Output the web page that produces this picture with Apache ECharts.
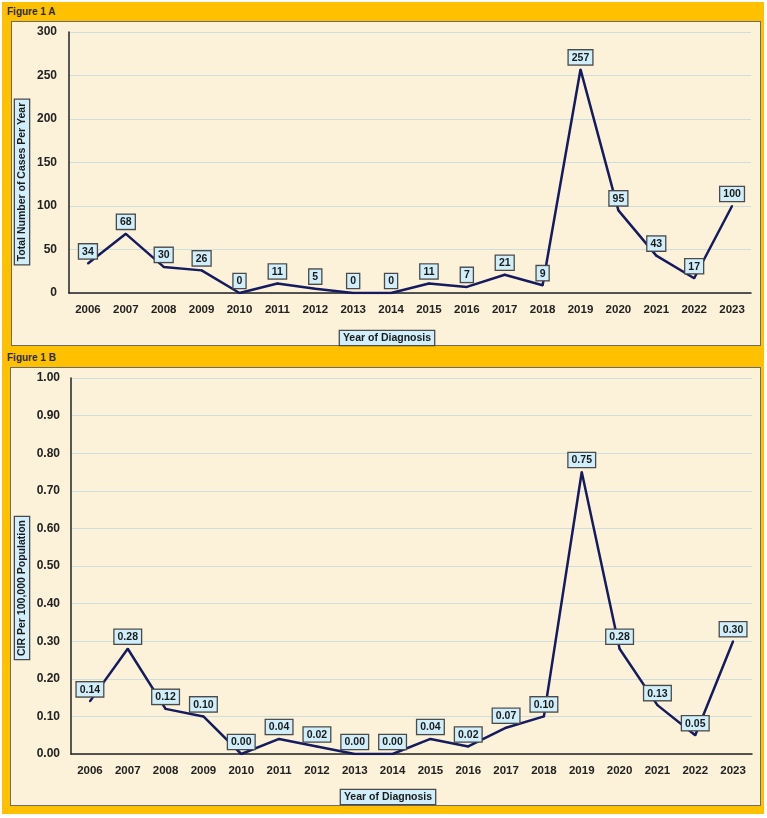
<!DOCTYPE html>
<html>
<head>
<meta charset="utf-8" />
<title>Figure 1</title>
<script src="https://cdn.jsdelivr.net/npm/echarts@6/dist/echarts.min.js"></script>
<style>
    body { margin: 0; padding: 0; background: #ffffff; }
    .page {
        position: relative;
        width: 767px;
        height: 818px;
        overflow: hidden;
    }
    .gold {
        position: absolute;
        left: 2px; top: 2px; width: 762px; height: 812px;
        background: #FFC000;
    }
    .panel {
        position: absolute;
        background: #FCF2D9;
        border: 1px solid #6b6b6b;
        box-sizing: border-box;
    }
    .fig {
        position: absolute;
        left: 7px;
        font: bold 10px "Liberation Sans", Arial, sans-serif;
        color: #2b2b2b;
    }
    #main { position: absolute; left: 0; top: 0; width: 767px; height: 818px; }
</style>
</head>
<body>
<div class="page">
    <div class="gold"></div>
    <div class="fig" style="top:6px;">Figure 1 A</div>
    <div class="panel" style="left:11px;top:21px;width:750px;height:325px;"></div>
    <div class="fig" style="top:352px;">Figure 1 B</div>
    <div class="panel" style="left:10px;top:367px;width:751px;height:439px;"></div>
    <div id="main"></div>
</div>
<script type="text/javascript">
    // 数据
    var years = ['2006', '2007', '2008', '2009', '2010', '2011', '2012', '2013', '2014',
        '2015', '2016', '2017', '2018', '2019', '2020', '2021', '2022', '2023'];
    var cases = [34, 68, 30, 26, 0, 11, 5, 0, 0, 11, 7, 21, 9, 257, 95, 43, 17, 100];
    var cir = [0.14, 0.28, 0.12, 0.10, 0.00, 0.04, 0.02, 0.00, 0.00, 0.04, 0.02, 0.07, 0.10,
        0.75, 0.28, 0.13, 0.05, 0.30];

    var lineColor = '#151B5E';
    var font = '"Liberation Sans", Arial, sans-serif';

    function boxLabel(fmt) {
        return {
            show: true,
            position: 'top',
            distance: 4,
            formatter: fmt,
            fontFamily: font,
            fontWeight: 'bold',
            fontSize: 10.5,
            color: '#1a1a1a',
            backgroundColor: '#D0EFFA',
            borderColor: '#4a4a4a',
            borderWidth: 1.3,
            padding: [2, 3, 1, 3]
        };
    }

    function xAxis(idx) {
        return {
            type: 'category',
            gridIndex: idx,
            data: years,
            boundaryGap: true,
            axisLine: { lineStyle: { color: '#222', width: 1.5 } },
            axisTick: { show: false },
            axisLabel: { fontFamily: font, fontWeight: 'bold', fontSize: 11.5, color: '#222', margin: 11 }
        };
    }

    function nameBox(text, x, y, rot) {
        return {
            type: 'text',
            x: x, y: y,
            rotation: rot,
            z: 10,
            style: {
                text: text,
                fontFamily: font,
                fontWeight: 'bold',
                fontSize: 10.5,
                fill: '#1a1a1a',
                align: 'center',
                verticalAlign: 'middle',
                backgroundColor: '#D0EFFA',
                borderColor: '#4a4a4a',
                borderWidth: 1.3,
                padding: [2, 3, 1, 3]
            }
        };
    }

    var myChart = echarts.init(document.getElementById('main'));

    var option = {
        animation: false,
        grid: [
            { left: 69, top: 32, width: 682, height: 261 },
            { left: 71, top: 378, width: 681, height: 376 }
        ],
        xAxis: [xAxis(0), xAxis(1)],
        yAxis: [{
            type: 'value',
            gridIndex: 0,
            min: 0, max: 300, interval: 50,
            axisLine: { show: true, lineStyle: { color: '#222', width: 1.5 } },
            splitLine: { lineStyle: { color: '#CFDDDD', width: 1 } },
            axisLabel: { fontFamily: font, fontWeight: 'bold', fontSize: 12, color: '#222', margin: 12 }
        }, {
            type: 'value',
            gridIndex: 1,
            min: 0, max: 1, interval: 0.1,
            axisLine: { show: true, lineStyle: { color: '#222', width: 1.5 } },
            splitLine: { lineStyle: { color: '#CFDDDD', width: 1 } },
            axisLabel: {
                fontFamily: font, fontWeight: 'bold', fontSize: 12, color: '#222', margin: 11,
                formatter: function (v) { return v.toFixed(2); }
            }
        }],
        series: [{
            name: 'Total Number of Cases',
            type: 'line',
            xAxisIndex: 0, yAxisIndex: 0,
            data: cases,
            symbol: 'circle',
            symbolSize: 2,
            itemStyle: { color: lineColor },
            lineStyle: { color: lineColor, width: 2.5 },
            label: boxLabel(function (p) { return String(p.value); })
        }, {
            name: 'CIR',
            type: 'line',
            xAxisIndex: 1, yAxisIndex: 1,
            data: cir,
            symbol: 'circle',
            symbolSize: 2,
            itemStyle: { color: lineColor },
            lineStyle: { color: lineColor, width: 2.5 },
            label: boxLabel(function (p) { return p.value.toFixed(2); })
        }],
        graphic: [
            nameBox('Total Number of Cases Per Year', 22, 182, Math.PI / 2),
            nameBox('Year of Diagnosis', 387, 338, 0),
            nameBox('CIR Per 100,000 Population', 22, 588, Math.PI / 2),
            nameBox('Year of Diagnosis', 388, 797, 0)
        ]
    };

    myChart.setOption(option);
</script>
</body>
</html>
